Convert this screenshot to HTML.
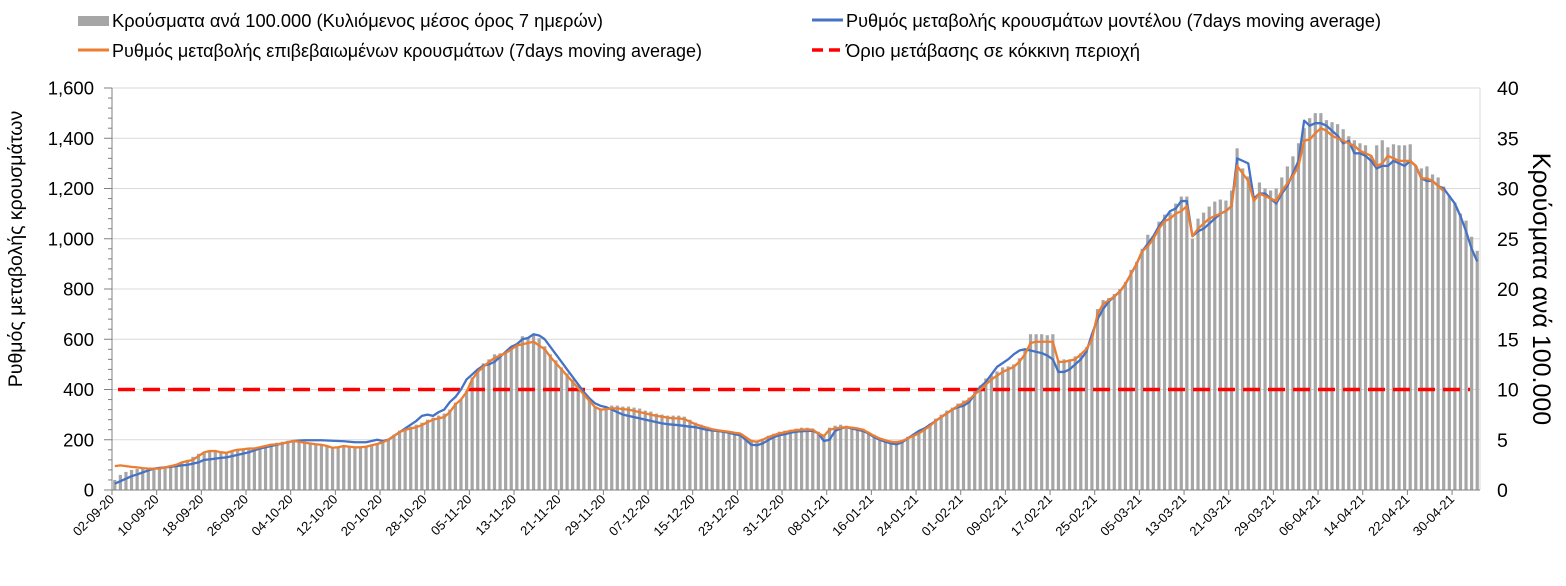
<!DOCTYPE html>
<html><head><meta charset="utf-8">
<style>
body{margin:0;background:#fff;}
svg{display:block;font-family:"Liberation Sans",sans-serif;}
</style></head>
<body>
<svg id="chart" width="1566" height="586" viewBox="0 0 1566 586" xmlns="http://www.w3.org/2000/svg">
  <g>
    <g>
      <rect x="78" y="16" width="31" height="10" fill="#a6a6a6"/>
      <text x="112" y="27" font-size="18" fill="#000" textLength="491" lengthAdjust="spacingAndGlyphs">Κρούσματα ανά 100.000 (Κυλιόμενος μέσος όρος 7 ημερών)</text>
    </g>
    <g>
      <line x1="78" y1="50" x2="109" y2="50" stroke="#ed7d31" stroke-width="3"/>
      <text x="112" y="57" font-size="18" fill="#000" textLength="590" lengthAdjust="spacingAndGlyphs">Ρυθμός μεταβολής επιβεβαιωμένων κρουσμάτων (7days moving average)</text>
    </g>
    <g>
      <line x1="812" y1="20" x2="843" y2="20" stroke="#4472c4" stroke-width="3"/>
      <text x="846" y="27" font-size="18" fill="#000" textLength="535" lengthAdjust="spacingAndGlyphs">Ρυθμός μεταβολής κρουσμάτων μοντέλου (7days moving average)</text>
    </g>
    <g>
      <line x1="812" y1="50" x2="843" y2="50" stroke="#ff0000" stroke-width="3.5" stroke-dasharray="11,6"/>
      <text x="846" y="57" font-size="18" fill="#000" textLength="294" lengthAdjust="spacingAndGlyphs">Όριο μετάβασης σε κόκκινη περιοχή</text>
    </g>
  </g>
  <text transform="translate(22,249) rotate(-90)" text-anchor="middle" font-size="19.5">Ρυθμός μεταβολής κρουσμάτων</text>
  <text transform="translate(1533,289) rotate(90)" text-anchor="middle" font-size="25">Κρούσματα ανά 100.000</text>
  <g id="grid"></g>
  <g id="bars"></g>
  <g id="lines"></g>
  <g id="axes"></g>
</svg>
<script>
const startDate = [2020, 8, 2];
const leftTicks = [0,200,400,600,800,1000,1200,1400,1600];
const rightTicks = [0,5,10,15,20,25,30,35,40];
const threshold = [400];
const barValues = [
1.0,1.5,1.8,2.0,2.1,2.2,2.2,2.2,2.2,
2.3,2.4,2.6,2.8,3.0,3.3,3.6,3.8,
3.9,3.9,3.8,3.8,3.9,4.0,4.1,4.1,
4.2,4.3,4.4,4.6,4.7,4.8,4.9,5.0,
4.9,4.8,4.7,4.6,4.5,4.4,4.3,4.3,
4.4,4.4,4.3,4.3,4.4,4.5,4.6,4.8,
5.1,5.5,5.9,6.1,6.3,6.5,6.7,7.0,
7.2,7.4,7.6,8.0,8.7,9.0,9.9,11.2,
12.0,12.6,13.0,13.5,13.6,13.7,14.2,14.6,
15.3,15.1,15.4,15.1,14.3,13.5,12.9,12.2,
11.6,11.0,10.4,9.8,9.0,8.3,8.0,8.3,
8.4,8.4,8.3,8.3,8.2,8.1,7.9,7.8,
7.6,7.5,7.4,7.4,7.4,7.3,7.0,6.7,
6.5,6.3,6.1,6.0,5.9,5.8,5.7,5.6,
5.3,5.0,4.9,5.1,5.4,5.6,5.8,5.9,
6.0,6.1,6.2,6.2,6.1,5.8,5.5,6.2,
6.4,6.5,6.4,6.3,6.2,6.1,5.8,5.5,
5.2,5.0,4.9,4.9,5.0,5.3,5.5,5.8,
6.1,6.6,7.1,7.5,7.9,8.2,8.6,8.9,
9.2,9.8,10.4,11.1,11.4,11.8,12.2,12.3,
12.5,13.1,14.0,15.5,15.5,15.5,15.4,15.5,
12.9,13.0,13.0,13.3,13.6,14.2,15.3,18.0,
18.9,19.1,19.5,20.0,20.7,21.9,22.7,24.0,
25.4,25.3,26.7,27.4,27.6,28.5,29.2,29.2,
25.0,27.0,27.6,28.2,28.7,28.9,28.8,29.8,
34.0,32.0,31.2,29.0,30.6,30.0,29.8,30.0,
31.1,32.2,33.2,34.5,36.0,37.0,37.5,37.5,
36.8,36.6,36.4,35.9,35.2,34.8,34.5,34.3,
33.3,34.3,34.8,34.1,34.4,34.3,34.3,34.4,
32.3,32.0,32.2,31.4,31.1,30.2,29.3,28.6,
27.5,26.8,25.2,23.8];
const confirmedRate = [
95,98,95,92,90,87,85,85,85,
90,95,100,110,115,120,135,150,
155,155,150,148,155,160,162,165,
165,170,175,180,182,185,190,195,
192,188,185,182,180,175,168,170,
175,172,170,170,172,178,183,190,
200,215,230,240,245,250,258,270,
280,285,290,310,340,360,390,440,
470,490,510,525,535,545,560,575,
580,585,590,575,560,530,505,480,
455,430,405,380,355,330,320,322,
325,325,322,320,315,310,305,300,
295,292,288,285,285,282,272,262,
255,248,242,238,235,232,228,225,
210,195,192,200,210,218,225,230,
235,238,240,240,240,225,215,240,
245,248,250,248,245,240,228,215,
205,198,192,190,195,205,215,225,
240,255,275,290,305,320,335,345,
360,380,400,420,440,455,470,480,
490,510,540,585,590,590,590,590,
510,510,515,520,540,560,600,700,
740,755,770,790,820,860,900,950,
970,1000,1040,1070,1080,1100,1110,1130,
1010,1040,1060,1080,1090,1100,1110,1130,
1290,1260,1230,1150,1180,1170,1160,1150,
1190,1220,1250,1290,1390,1395,1420,1440,
1430,1410,1400,1390,1380,1370,1350,1340,
1330,1290,1300,1330,1320,1310,1310,1310,
1290,1240,1240,1230,1210,1190];
const modelRate = [
25,35,45,55,62,70,78,85,88,
90,92,95,98,100,105,110,120,
122,125,128,130,135,140,145,150,
158,165,170,175,180,185,190,195,
197,198,198,198,198,197,196,195,
194,192,190,190,190,195,200,195,
200,215,230,245,260,275,295,300,
295,310,320,350,370,400,440,460,
480,495,500,510,530,550,570,580,
600,605,620,615,600,570,540,510,
480,450,420,390,365,345,335,330,
320,310,300,295,290,285,280,275,
270,265,262,260,258,255,252,250,
245,240,237,235,232,228,222,218,
200,180,178,185,198,210,218,222,
228,232,234,235,236,225,195,200,
235,245,250,245,240,235,225,210,
200,192,185,182,190,205,220,235,
245,260,275,290,305,320,330,335,
350,380,410,430,460,490,505,520,
540,555,560,555,550,545,535,520,
470,470,480,500,520,550,620,680,
720,750,770,790,820,860,900,950,
980,1010,1050,1080,1110,1120,1150,1150,
1010,1030,1040,1060,1080,1100,1110,1130,
1320,1310,1300,1160,1180,1180,1160,1140,
1180,1210,1260,1310,1470,1450,1460,1460,
1450,1430,1410,1380,1390,1340,1340,1330,
1310,1280,1290,1290,1310,1300,1290,1310,
1290,1240,1230,1230,1210,1200,1170,1140,
1090,1030,960,910];

const NS='http://www.w3.org/2000/svg';
const X0=112, X1=1480, Y0=490, Y1=88;
const N=barValues.length;
const bw=(X1-X0)/N;
const xDay=i=>X0+(i+0.5)*bw;
const xEdge=i=>X0+i*bw;
const yL=v=>Y0-(v/1600)*(Y0-Y1);
const yR=v=>Y0-(v/40)*(Y0-Y1);
function mk(tag,attrs,parent){const e=document.createElementNS(NS,tag);for(const k in attrs)e.setAttribute(k,attrs[k]);parent.appendChild(e);return e;}
const grid=document.getElementById('grid'),bars=document.getElementById('bars'),lines=document.getElementById('lines'),axes=document.getElementById('axes');

leftTicks.forEach(v=>{
  if(v>0){const g=mk('line',{x1:X0,x2:X1,y1:yL(v),y2:yL(v),stroke:'#d9d9d9','stroke-width':1},grid);
  
  }
  const t=mk('text',{x:94,y:yL(v)+6.5,'text-anchor':'end','font-size':18.5},axes);
  t.textContent=v.toLocaleString('en-US');
  
  
});
for(let v=0;v<=1600;v+=40){mk('line',{x1:X0-(v%200===0?8:4),x2:X0,y1:yL(v),y2:yL(v),stroke:'#808080','stroke-width':1},axes);}
rightTicks.forEach(v=>{
  const t=mk('text',{x:1497,y:yR(v)+7,'font-size':19.5},axes);
  t.textContent=v;
  
  
});
mk('line',{x1:X0,x2:X0,y1:Y1,y2:Y0,stroke:'#808080','stroke-width':1},axes);
mk('line',{x1:X1,x2:X1,y1:Y1,y2:Y0,stroke:'#d9d9d9','stroke-width':1},axes);
mk('line',{x1:X0,x2:X1,y1:Y0,y2:Y0,stroke:'#808080','stroke-width':1},axes);

barValues.forEach((v,i)=>{
  const b=mk('rect',{x:xDay(i)-1.6,y:yR(v),width:3.2,height:Y0-yR(v),fill:'#a6a6a6'},bars);
  
  
});

const th=mk('line',{x1:X0+6,x2:X1-10,y1:yL(threshold[0]),y2:yL(threshold[0]),stroke:'#ff0000','stroke-width':3.5,'stroke-dasharray':'17,8'},lines);



function poly(arr,color,name){
  const p=mk('polyline',{points:arr.map((v,i)=>xDay(i)+','+yL(v)).join(' '),fill:'none',stroke:color,'stroke-width':2.3,'stroke-linejoin':'round'},lines);
  
  
}
poly(modelRate,'#4472c4','model-rate-line');
poly(confirmedRate,'#ed7d31','confirmed-rate-line');

const d0=new Date(Date.UTC(startDate[0],startDate[1],startDate[2]));
for(let i=0;i<N;i+=8){
  const x=xEdge(i);
  mk('line',{x1:x,x2:x,y1:Y0,y2:Y0+5,stroke:'#808080','stroke-width':1},axes);
  const d=new Date(d0.getTime()+i*86400000);
  const s=String(d.getUTCDate()).padStart(2,'0')+'-'+String(d.getUTCMonth()+1).padStart(2,'0')+'-'+String(d.getUTCFullYear()%100).padStart(2,'0');
  const t=mk('text',{x:x+3,y:Y0+10,'text-anchor':'end','font-size':13,transform:`rotate(-45 ${x+3} ${Y0+10})`},axes);
  t.textContent=s;
  
  
}
</script>
</body></html>
